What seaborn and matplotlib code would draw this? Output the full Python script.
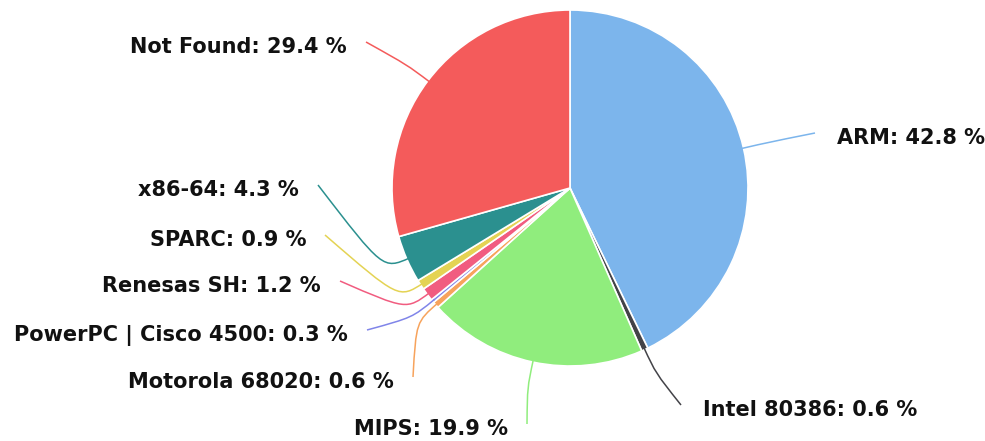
import numpy as np
import matplotlib
matplotlib.use("Agg")
import matplotlib.pyplot as plt
from matplotlib.path import Path
from matplotlib.patches import PathPatch
import seaborn as sns

# ---------------- Data ----------------
archs = ["ARM", "Intel 80386", "MIPS", "Motorola 68020", "PowerPC | Cisco 4500",
         "Renesas SH", "SPARC", "x86-64", "Not Found"]
shares = [42.8, 0.6, 19.9, 0.6, 0.3, 1.2, 0.9, 4.3, 29.4]
colors = ["#7cb5ec", "#434348", "#90ed7d", "#f7a35c", "#8085e9",
          "#f15c80", "#e4d354", "#2b908f", "#f45b5b"]

# ---------------- Layout (pixels, y from top) ----------------
W, H = 985, 441
cx, cy, R = 570, 188, 178
# where each connector ends next to its label, and which side the text sits on
label_pos = [(815, 133), (681, 405), (527, 424), (413, 377), (367, 330),
             (340, 281), (325, 235), (318, 185), (366, 42)]
label_side = ["right", "right", "left", "left", "left", "left", "left", "left", "left"]
crook = 26  # radial length of the bend next to the slice

sns.set_theme(style="white")
plt.rcParams["font.family"] = ["DejaVu Sans"]

fig = plt.figure(figsize=(W / 100, H / 100), dpi=100)
ax = fig.add_axes([0, 0, 1, 1])

wedges, _ = ax.pie(shares, colors=colors, startangle=90, counterclock=False,
                   center=(cx, H - cy), radius=R,
                   wedgeprops=dict(edgecolor="white", linewidth=1.2))
# pie() resets the limits, so set them afterwards
ax.set_xlim(0, W)
ax.set_ylim(0, H)
ax.set_aspect("equal")
ax.axis("off")

for w, name, val, col, (lx, ly), side in zip(wedges, archs, shares, colors,
                                             label_pos, label_side):
    mid = np.deg2rad((w.theta1 + w.theta2) / 2)
    ex = cx + (R - 3) * np.cos(mid)
    ey = H - cy + (R - 3) * np.sin(mid)
    bx = cx + (R + crook) * np.cos(mid)
    by = H - cy + (R + crook) * np.sin(mid)
    verts = [(lx, H - ly), (bx, by), (bx, by), (ex, ey)]
    codes = [Path.MOVETO, Path.CURVE4, Path.CURVE4, Path.CURVE4]
    ax.add_patch(PathPatch(Path(verts, codes), facecolor="none",
                           edgecolor=col, lw=1.1))
    if side == "right":
        ax.text(lx + 22, H - ly - 5, f"{name}: {val} %", ha="left", va="center",
                fontsize=15, fontweight="bold", color="#111111")
    else:
        ax.text(lx - 19, H - ly - 5, f"{name}: {val} %", ha="right", va="center",
                fontsize=15, fontweight="bold", color="#111111")

fig.savefig("out.png", dpi=100, facecolor="white")
